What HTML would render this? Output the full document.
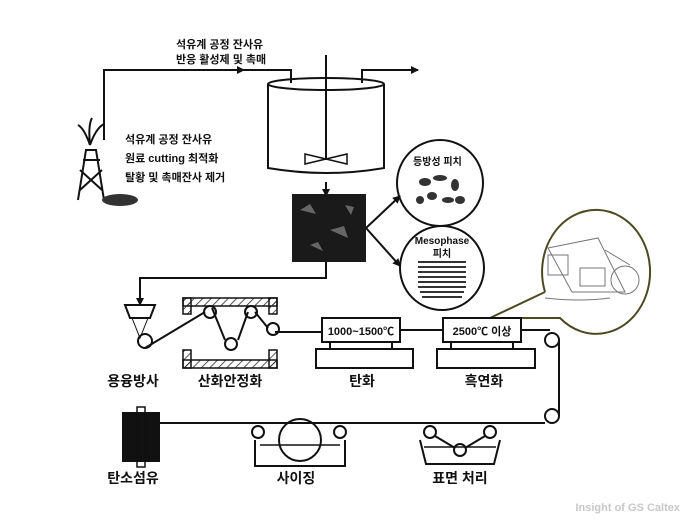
<!DOCTYPE html>
<html><head><meta charset="utf-8"><style>
body{margin:0;background:#fff}
svg{display:block}
text{font-family:"Liberation Sans","Noto Sans CJK KR",sans-serif;fill:#111}
</style></head><body>
<svg width="690" height="532" viewBox="0 0 690 532" xmlns="http://www.w3.org/2000/svg">
<defs><marker id="a" markerWidth="8" markerHeight="8" refX="7" refY="4" orient="auto" markerUnits="userSpaceOnUse"><path d="M0,0L8,4L0,8z" fill="#111"/></marker>
<pattern id="h" width="6" height="6" patternUnits="userSpaceOnUse" patternTransform="rotate(45)"><line x1="0" y1="0" x2="0" y2="6" stroke="#222" stroke-width="1.5"/></pattern></defs>
<g stroke="#111" stroke-width="2" fill="none">
<path d="M104,140 V70 H244" marker-end="url(#a)"/>
<path d="M240,70 H291 V83"/>
<path d="M362,83 V70 H418" marker-end="url(#a)"/>
<ellipse cx="326" cy="84" rx="58" ry="6"/>
<path d="M268,84 V168 Q326,178 384,168 V84"/>
<line x1="326" y1="55" x2="326" y2="160"/>
<path d="M305,154 L347,164 V154 L305,164z" stroke-width="1.5"/>
<path d="M326,182 V196" marker-end="url(#a)"/>
<path d="M366,228 L400,196" marker-end="url(#a)"/>
<path d="M366,228 L400,266" marker-end="url(#a)"/>
<circle cx="440" cy="183" r="43"/>
<circle cx="442" cy="268" r="42"/>
<path d="M326,262 V278 H140 V305" marker-end="url(#a)"/>
<path d="M545,292 L490,318 L560,318 A54,62 0 1 0 545,292" stroke="#4d4a22" stroke-width="2"/>
</g>
<rect x="292" y="194" width="74" height="68" fill="#1a1a1a"/>
<g fill="#666"><path d="M300,210l10,-6l6,10z"/><path d="M330,230l14,-4l4,12z"/><path d="M310,245l8,-3l5,9z"/><path d="M345,205l9,2l-3,8z"/></g>
<g stroke="#111" stroke-width="2" fill="none">
<path d="M78,200 L86,150 H96 L104,200 M80,190 L102,170 M80,170 L102,190 M83,160 L100,160"/>
<path d="M90,145 Q84,128 78,125 M90,145 Q88,125 92,118 M90,145 Q96,128 104,124"/>
</g>
<ellipse cx="120" cy="200" rx="18" ry="6" fill="#333"/>
<g fill="#333"><ellipse cx="425" cy="182" rx="6" ry="4"/><ellipse cx="440" cy="178" rx="7" ry="3"/><ellipse cx="455" cy="185" rx="4" ry="6"/><ellipse cx="432" cy="196" rx="5" ry="4"/><ellipse cx="448" cy="200" rx="6" ry="3"/><ellipse cx="420" cy="200" rx="4" ry="4"/><ellipse cx="460" cy="200" rx="5" ry="4"/></g>
<g stroke="#333" stroke-width="2">
<line x1="418" y1="262" x2="466" y2="262"/><line x1="418" y1="267" x2="466" y2="267"/><line x1="418" y1="272" x2="466" y2="272"/><line x1="418" y1="277" x2="466" y2="277"/><line x1="418" y1="282" x2="466" y2="282"/><line x1="418" y1="287" x2="466" y2="287"/><line x1="420" y1="292" x2="464" y2="292"/><line x1="422" y1="297" x2="462" y2="297"/></g>
<g stroke="#777" fill="none" stroke-width="1"><path d="M548,248 L598,238 L625,292 L572,292z"/><rect x="548" y="255" width="20" height="20"/><rect x="580" y="268" width="25" height="18"/><circle cx="625" cy="280" r="14"/><path d="M545,298 Q580,302 610,298"/><path d="M605,250 L630,265"/></g>
<g font-weight="bold">
<text x="176" y="48" font-size="11">석유계 공정 잔사유</text>
<text x="176" y="63" font-size="11">반응 활성제 및 촉매</text>
<text x="125" y="143" font-size="11">석유계 공정 잔사유</text>
<text x="125" y="162" font-size="11">원료 cutting 최적화</text>
<text x="125" y="181" font-size="11">탈황 및 촉매잔사 제거</text>
<text x="413" y="165" font-size="10">등방성 피치</text>
<text x="442" y="244" font-size="10" text-anchor="middle">Mesophase</text>
<text x="442" y="257" font-size="10" text-anchor="middle">피치</text>
</g>
<g stroke="#111" stroke-width="2" fill="none">
<path d="M125,305 H155 L150,318 H130z"/>
<path d="M132,318 L140,338 L148,318" stroke-width="1"/>
<circle cx="145" cy="341" r="7"/>
<path d="M145,348 L205,312 M212,308 L225,340 M238,340 L248,312 M255,312 L268,328 M275,332 H322"/>
<circle cx="210" cy="312" r="6"/><circle cx="231" cy="344" r="6"/><circle cx="251" cy="312" r="6"/><circle cx="273" cy="329" r="6"/>
<rect x="322" y="318" width="78" height="24"/>
<rect x="316" y="349" width="97" height="19"/>
<path d="M330,342 V349 M392,342 V349 M400,330 H443 M521,330 H550"/>
<rect x="443" y="318" width="78" height="24"/>
<rect x="437" y="349" width="98" height="19"/>
<path d="M451,342 V349 M513,342 V349"/>
<circle cx="552" cy="340" r="7"/>
<path d="M559,340 V416"/>
<circle cx="552" cy="416" r="7"/>
<path d="M545,423 H160"/>
<path d="M255,440 V466 H345 V440"/>
<path d="M260,445 H340" stroke-width="1.5"/>
<circle cx="300" cy="440" r="21"/>
<circle cx="258" cy="432" r="6"/><circle cx="340" cy="432" r="6"/>
<path d="M420,440 L426,464 H494 L500,440"/>
<path d="M424,447 H496" stroke-width="1.5"/>
<circle cx="430" cy="432" r="6"/><circle cx="490" cy="432" r="6"/><circle cx="460" cy="450" r="6"/>
<path d="M435,436 L455,448 M465,448 L485,436"/>
</g>
<rect x="183" y="298" width="94" height="8" fill="url(#h)" stroke="#111" stroke-width="1.5"/>
<rect x="183" y="298" width="8" height="16" fill="url(#h)" stroke="#111" stroke-width="1.5"/>
<rect x="269" y="298" width="8" height="16" fill="url(#h)" stroke="#111" stroke-width="1.5"/>
<rect x="183" y="360" width="94" height="8" fill="url(#h)" stroke="#111" stroke-width="1.5"/>
<rect x="183" y="350" width="8" height="18" fill="url(#h)" stroke="#111" stroke-width="1.5"/>
<rect x="269" y="350" width="8" height="18" fill="url(#h)" stroke="#111" stroke-width="1.5"/>
<rect x="122" y="412" width="38" height="50" fill="#111"/>
<rect x="137" y="407" width="8" height="60" fill="none" stroke="#111" stroke-width="1.5"/>
<text x="361" y="335" font-size="11" font-weight="bold" text-anchor="middle">1000~1500℃</text>
<text x="482" y="335" font-size="11" font-weight="bold" text-anchor="middle">2500℃ 이상</text>
<g font-size="14" font-weight="bold" text-anchor="middle">
<text x="133" y="386">용융방사</text><text x="230" y="386">산화안정화</text><text x="362" y="386">탄화</text><text x="484" y="386">흑연화</text>
<text x="133" y="483">탄소섬유</text><text x="296" y="483">사이징</text><text x="460" y="483">표면 처리</text>
</g>
<text x="680" y="511" font-size="11" text-anchor="end" style="fill:#c8c8c8" font-weight="bold">Insight of GS Caltex</text>
</svg>
</body></html>
